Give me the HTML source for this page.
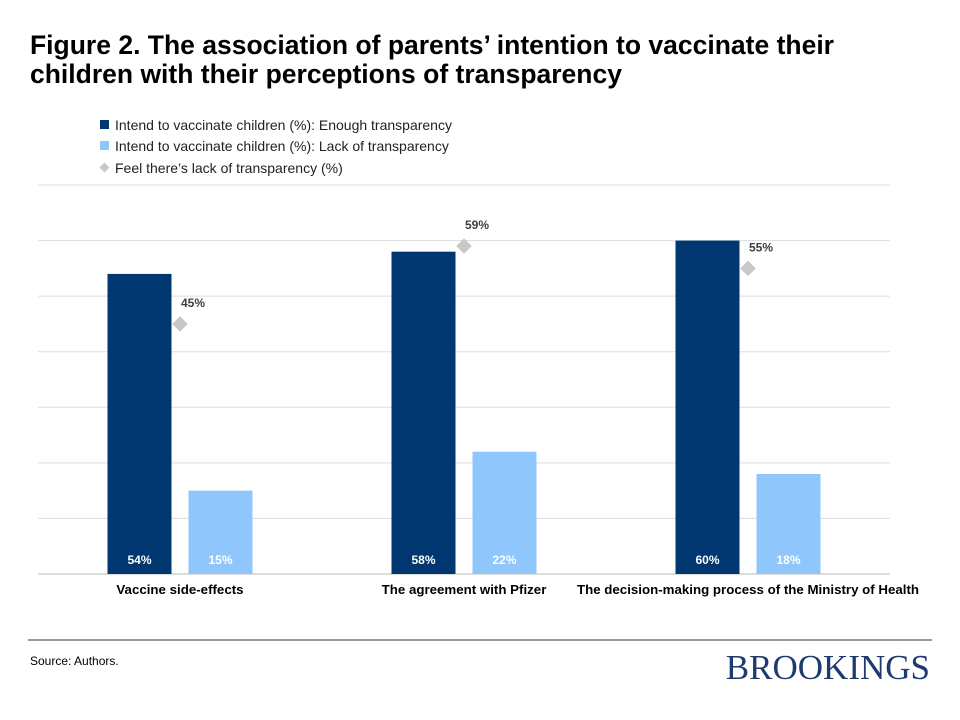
<!DOCTYPE html>
<html><head><meta charset="utf-8"><style>
body{margin:0;background:#fff;font-family:"Liberation Sans",sans-serif;}
#wrap{position:relative;width:960px;height:720px;overflow:hidden;}
</style></head><body>
<div id="wrap">
<svg id="chart" width="960" height="720" font-family="Liberation Sans, sans-serif">
<text x="30" y="54" font-size="26.5" font-weight="bold" fill="#000">Figure 2. The association of parents’ intention to vaccinate their</text>
<text x="30" y="83" font-size="26.5" font-weight="bold" fill="#000">children with their perceptions of transparency</text>
<g>
<rect x="100" y="120" width="9" height="9" fill="#003770"/>
<text x="115" y="130" font-size="14" fill="#222">Intend to vaccinate children (%): Enough transparency</text>
<rect x="100" y="141" width="9" height="9" fill="#8fc7fd"/>
<text x="115" y="151" font-size="14" fill="#222">Intend to vaccinate children (%): Lack of transparency</text>
<rect x="101" y="164" width="7" height="7" fill="#c8c8c8" transform="rotate(45 104.5 167.5)"/>
<text x="115" y="173" font-size="14" fill="#222">Feel there’s lack of transparency (%)</text>
</g>
<g id="grid"></g><g id="marks"></g>
<line x1="28" y1="640" x2="932" y2="640" stroke="#333" stroke-width="1"/>
<text x="30" y="665" font-size="12" fill="#000">Source: Authors.</text>
<text x="930" y="679" font-size="35" fill="#1d3b6e" text-anchor="end" font-family="Liberation Serif, serif">BROOKINGS</text>
</svg>
</div>
<script>
const categories=["Vaccine side-effects","The agreement with Pfizer","The decision-making process of the Ministry of Health"];
const enough=[54,58,60];
const lack=[15,22,18];
const feel=[45,59,55];
const yTicks=[0,10,20,30,40,50,60,70];
const NS="http://www.w3.org/2000/svg";
const L=38,R=890,T=185,B=574,ymax=70;
const y=v=>B-(B-T)*v/ymax;
const band=(R-L)/categories.length;
const cx=i=>L+band*(i+0.5);
function mk(tag,attrs,parent,txt){const e=document.createElementNS(NS,tag);for(const k in attrs)e.setAttribute(k,attrs[k]);if(txt!=null)e.textContent=txt;parent.appendChild(e);return e;}
const grid=document.getElementById('grid'),marks=document.getElementById('marks');
yTicks.forEach(t=>{const l=mk('line',{x1:L,x2:R,y1:y(t),y2:y(t),stroke:t===0?'#bbb':'#ddd','stroke-width':1},grid);

});
const bw=64,gap=17;
categories.forEach((c,i)=>{
 const x1=cx(i)-gap/2-bw, x2=cx(i)+gap/2;
 const b1=mk('rect',{x:x1,y:y(enough[i]),width:bw,height:B-y(enough[i]),fill:'#003770'},marks);
 
 
 const b2=mk('rect',{x:x2,y:y(lack[i]),width:bw,height:B-y(lack[i]),fill:'#8fc7fd'},marks);
 
 
 const t1=mk('text',{x:x1+bw/2,y:B-10,'font-size':12,'font-weight':'bold',fill:'#fff','text-anchor':'middle'},marks,enough[i]+'%');
 
 
 const t2=mk('text',{x:x2+bw/2,y:B-10,'font-size':12,'font-weight':'bold',fill:'#fff','text-anchor':'middle'},marks,lack[i]+'%');
 
 
 const dy=y(feel[i]);
 const d=mk('rect',{x:cx(i)-5.5,y:dy-5.5,width:11,height:11,fill:'#c8c8c8',transform:`rotate(45 ${cx(i)} ${dy})`},marks);
 
 
 const t3=mk('text',{x:cx(i)+1,y:dy-17,'font-size':12,'font-weight':'bold',fill:'#404040'},marks,feel[i]+'%');
 
 
 const cl=mk('text',{x:cx(i),y:594,'font-size':13.3,'font-weight':'bold',fill:'#000','text-anchor':'middle'},marks,c);
 
 
});
</script>
</body></html>
